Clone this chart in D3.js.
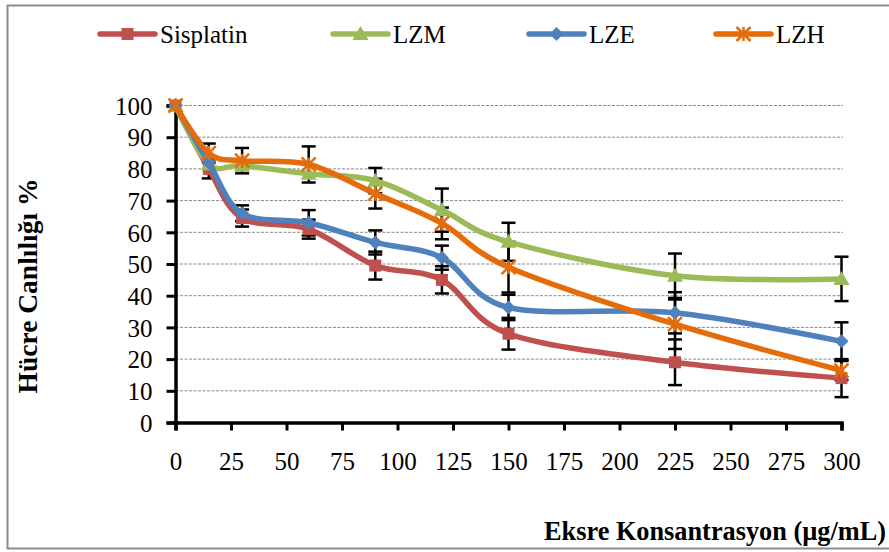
<!DOCTYPE html>
<html>
<head>
<meta charset="utf-8">
<script src="https://cdn.jsdelivr.net/npm/d3@7"></script>
<style>
  html, body { margin: 0; padding: 0; background: #fff; }
  svg { display: block; }
  text { font-family: "Liberation Serif", "Times New Roman", serif; fill: #000; }
</style>
</head>
<body>
<svg id="chart" width="889" height="552"></svg>
<script>
// Concentrations (µg/mL)
const concentrations = [0, 15, 30, 60, 90, 120, 150, 225, 300];

// Cell viability (%) per treatment
const sisplatin = [100, 80, 64.5, 61, 49.5, 45, 28, 19, 14];
const lzm       = [100, 81.5, 81, 78.5, 76.3, 67, 57, 46.3, 45.3];
const lze       = [100, 82, 66, 63, 56.8, 52, 36.3, 34.6, 25.6];
const lzh       = [100, 85, 82.6, 81.4, 72.2, 62.8, 49, 31, 16.4];

// Standard deviations
const sisplatinErr = [0, 3, 2.7, 3, 4.4, 4.3, 5, 7.2, 6];
const lzmErr       = [0, 0, 0, 0, 4, 6.8, 6, 7, 7];
const lzeErr       = [0, 0, 2.5, 4, 3.8, 3.8, 4, 6.5, 6];
const lzhErr       = [0, 3, 4, 5.7, 4.7, 5, 8, 7.8, 3];

const seriesNames = ["Sisplatin", "LZM", "LZE", "LZH"];
const seriesColors = ["#C0504D", "#9BBB59", "#4F81BD", "#E46C0A"];
const seriesMarkers = ["square", "triangle", "diamond", "star"];

const xTicks = [0, 25, 50, 75, 100, 125, 150, 175, 200, 225, 250, 275, 300];
const yTicks = [0, 10, 20, 30, 40, 50, 60, 70, 80, 90, 100];

const series = [
  { name: seriesNames[0], values: sisplatin, err: sisplatinErr, color: seriesColors[0], marker: seriesMarkers[0] },
  { name: seriesNames[1], values: lzm,       err: lzmErr,       color: seriesColors[1], marker: seriesMarkers[1] },
  { name: seriesNames[2], values: lze,       err: lzeErr,       color: seriesColors[2], marker: seriesMarkers[2] },
  { name: seriesNames[3], values: lzh,       err: lzhErr,       color: seriesColors[3], marker: seriesMarkers[3] }
];

const svg = d3.select("#chart");

// Outer frame
svg.append("rect")
  .attr("x", 7.5).attr("y", 5.5)
  .attr("width", 900).attr("height", 543)
  .attr("fill", "none").attr("stroke", "#8c8c8c").attr("stroke-width", 2);

const x = d3.scaleLinear().domain([0, 300]).range([175.5, 841.5]);
const y = d3.scaleLinear().domain([0, 100]).range([422.5, 105.5]);

// Dotted horizontal gridlines
svg.append("g").selectAll("line")
  .data(yTicks.filter(t => t > 0))
  .join("line")
  .attr("x1", x(0)).attr("x2", 843)
  .attr("y1", d => y(d)).attr("y2", d => y(d))
  .attr("stroke", "#8a8a8a").attr("stroke-width", 1)
  .attr("stroke-dasharray", "3,1.5");

// Axes
const yAxis = svg.append("g")
  .attr("transform", `translate(${x(0)},0)`)
  .call(d3.axisLeft(y).tickValues(yTicks).tickSize(9).tickPadding(14).tickFormat(d3.format("d")));
const xAxis = svg.append("g")
  .attr("transform", `translate(0,${y(0)})`)
  .call(d3.axisBottom(x).tickValues(xTicks).tickSize(8).tickPadding(22).tickFormat(d3.format("d")));

[yAxis, xAxis].forEach(g => {
  g.select(".domain").attr("stroke", "#000").attr("stroke-width", 3.5);
  g.selectAll(".tick line").attr("stroke", "#000").attr("stroke-width", 3);
  g.selectAll(".tick text")
    .style("font-family", '"Liberation Serif", "Times New Roman", serif')
    .style("font-size", "25px").attr("fill", "#000");
});
yAxis.selectAll(".tick text").attr("dy", "0.35em");

// Error bars
const errG = svg.append("g");
series.forEach(s => {
  concentrations.forEach((c, i) => {
    const e = s.err[i];
    if (!e) return;
    const cx = x(c), y1 = y(s.values[i] + e), y2 = y(s.values[i] - e);
    errG.append("line").attr("x1", cx).attr("x2", cx).attr("y1", y1).attr("y2", y2)
      .attr("stroke", "#000").attr("stroke-width", 2.5);
    [y1, y2].forEach(yy => errG.append("line")
      .attr("x1", cx - 7).attr("x2", cx + 7).attr("y1", yy).attr("y2", yy)
      .attr("stroke", "#000").attr("stroke-width", 2.5));
  });
});

// Marker shapes
function drawMarker(g, kind, cx, cy, color) {
  if (kind === "square") {
    g.append("rect").attr("x", cx - 6).attr("y", cy - 6).attr("width", 12).attr("height", 12)
      .attr("fill", color);
  } else if (kind === "triangle") {
    g.append("path").attr("d", `M${cx},${cy - 8}L${cx + 8},${cy + 6}L${cx - 8},${cy + 6}Z`)
      .attr("fill", color);
  } else if (kind === "diamond") {
    g.append("path").attr("d", `M${cx},${cy - 7}L${cx + 7},${cy}L${cx},${cy + 7}L${cx - 7},${cy}Z`)
      .attr("fill", color);
  } else if (kind === "star") {
    const r = 7;
    g.append("path")
      .attr("d", `M${cx - r},${cy - r}L${cx + r},${cy + r}M${cx - r},${cy + r}L${cx + r},${cy - r}M${cx},${cy - r}L${cx},${cy + r}`)
      .attr("stroke", color).attr("stroke-width", 2.5).attr("fill", "none");
  }
}

// Smoothed series lines
const line = d3.line()
  .x((d, i) => x(concentrations[i]))
  .y(d => y(d))
  .curve(d3.curveCardinal.tension(0));

const seriesG = svg.append("g");
series.forEach(s => {
  const g = seriesG.append("g");
  g.append("path").datum(s.values).attr("d", line)
    .attr("fill", "none").attr("stroke", s.color).attr("stroke-width", 5.5)
    .attr("stroke-linejoin", "round").attr("stroke-linecap", "round");
  s.values.forEach((v, i) => drawMarker(g, s.marker, x(concentrations[i]), y(v), s.color));
});

// Legend
const legendX = [100, 333, 529, 716];
const legend = svg.append("g");
series.forEach((s, i) => {
  const lx = legendX[i], ly = 34;
  legend.append("line").attr("x1", lx).attr("x2", lx + 55).attr("y1", ly).attr("y2", ly)
    .attr("stroke", s.color).attr("stroke-width", 5.5).attr("stroke-linecap", "round");
  drawMarker(legend, s.marker, lx + 27.5, ly, s.color);
  legend.append("text").attr("x", lx + 60).attr("y", ly).attr("dy", "0.35em")
    .style("font-size", "25px").text(s.name);
});

// Axis titles
svg.append("text")
  .attr("transform", "translate(37,286) rotate(-90)")
  .attr("text-anchor", "middle")
  .style("font-size", "27.5px").style("font-weight", "bold")
  .text("Hücre Canlılığı %");

svg.append("text")
  .attr("x", 886).attr("y", 540)
  .attr("text-anchor", "end")
  .style("font-size", "26.3px").style("font-weight", "bold")
  .text("Eksre Konsantrasyon (µg/mL)");
</script>
</body>
</html>
